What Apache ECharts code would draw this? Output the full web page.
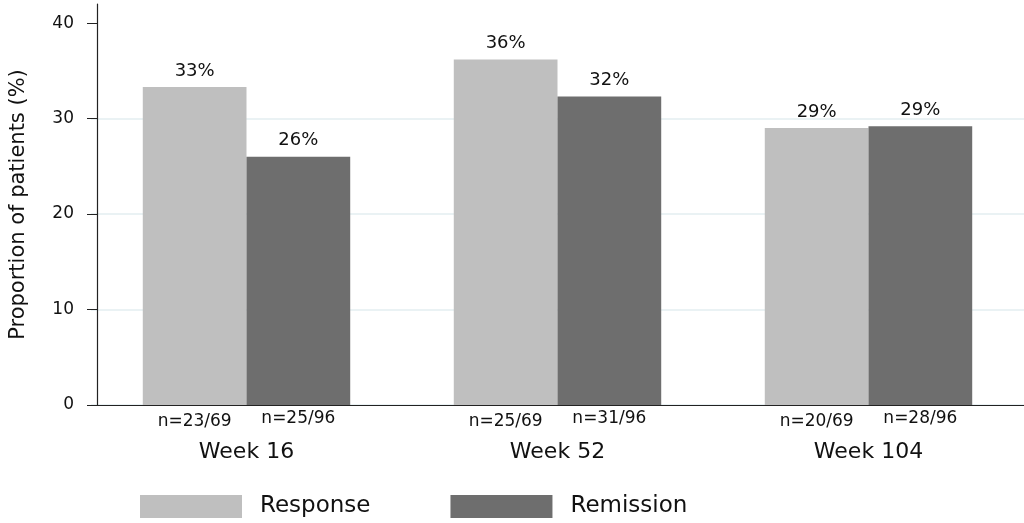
<!DOCTYPE html>
<html><head><meta charset="utf-8">
<script src="https://cdn.jsdelivr.net/npm/echarts@6/dist/echarts.min.js"></script>
<style>html,body{margin:0;padding:0;background:#fff}#c{width:1024px;height:523px}</style>
</head><body><div id="c"></div>
<script>
var categories = ['Week 16', 'Week 52', 'Week 104'];
var responseValues = [33.3, 36.2, 29.0];
var remissionValues = [26.0, 32.3, 29.2];
var responseN = ['n=23/69', 'n=25/69', 'n=20/69'];
var remissionN = ['n=25/96', 'n=31/96', 'n=28/96'];
var yTicks = [0, 10, 20, 30, 40];

var FONT = '"DejaVu Sans", Verdana, sans-serif';
var LIGHT = '#bfbfbf', DARK = '#6e6e6e';
var chart = echarts.init(document.getElementById('c'), null, {renderer: 'canvas'});
function zeros(n){var a=[];for(var i=0;i<n;i++)a.push(0);return a;}
chart.setOption({
  animation: false,
  textStyle: {fontFamily: FONT},
  grid: {left: 89, right: -1, top: 4, bottom: 118},
  legend: {
    data: ['Response', 'Remission'], left: 135, top: 490,
    itemWidth: 102, itemHeight: 23, itemGap: 80, icon: 'rect',
    textStyle: {fontSize: 23, color: '#111', fontFamily: FONT, padding: [0, 0, 0, 13]}
  },
  xAxis: {
    type: 'category', data: categories,
    axisLine: {lineStyle: {color: '#222', width: 1.2}},
    axisTick: {show: false},
    axisLabel: {fontSize: 22, color: '#111', margin: 36, fontFamily: FONT}
  },
  yAxis: {
    type: 'value', min: 0, max: 42, interval: 10, offset: -6,
    name: 'Proportion of patients (%)', nameLocation: 'middle', nameGap: 68,
    nameTextStyle: {fontSize: 21, color: '#111', fontFamily: FONT},
    axisLine: {show: true, lineStyle: {color: '#222', width: 1.2}},
    axisTick: {show: true, length: 10, customValues: yTicks, lineStyle: {color: '#222'}},
    axisLabel: {fontSize: 17, color: '#111', margin: 23, customValues: yTicks, fontFamily: FONT},
    splitLine: {show: true, showMaxLine: false, lineStyle: {color: '#e3eef0', width: 1.5}}
  },
  series: [
    {name: 'nR', type: 'bar', stack: 'r', data: zeros(3), barGap: 0, barCategoryGap: '33.3%',
      itemStyle: {color: LIGHT},
      label: {show: true, position: 'bottom', distance: 8, fontSize: 17, color: '#111',
        formatter: function(p){return responseN[p.dataIndex];}}},
    {name: 'Response', type: 'bar', stack: 'r', data: responseValues, barGap: 0, barCategoryGap: '33.3%',
      itemStyle: {color: LIGHT},
      label: {show: true, position: 'top', distance: 7, fontSize: 18, color: '#111',
        formatter: function(p){return Math.round(p.value) + '%';}}},
    {name: 'nM', type: 'bar', stack: 'm', data: zeros(3), barGap: 0, barCategoryGap: '33.3%',
      itemStyle: {color: DARK},
      label: {show: true, position: 'bottom', distance: 5, fontSize: 17, color: '#111',
        formatter: function(p){return remissionN[p.dataIndex];}}},
    {name: 'Remission', type: 'bar', stack: 'm', data: remissionValues, barGap: 0, barCategoryGap: '33.3%',
      itemStyle: {color: DARK},
      label: {show: true, position: 'top', distance: 7, fontSize: 18, color: '#111',
        formatter: function(p){return Math.round(p.value) + '%';}}}
  ]
});
</script></body></html>
